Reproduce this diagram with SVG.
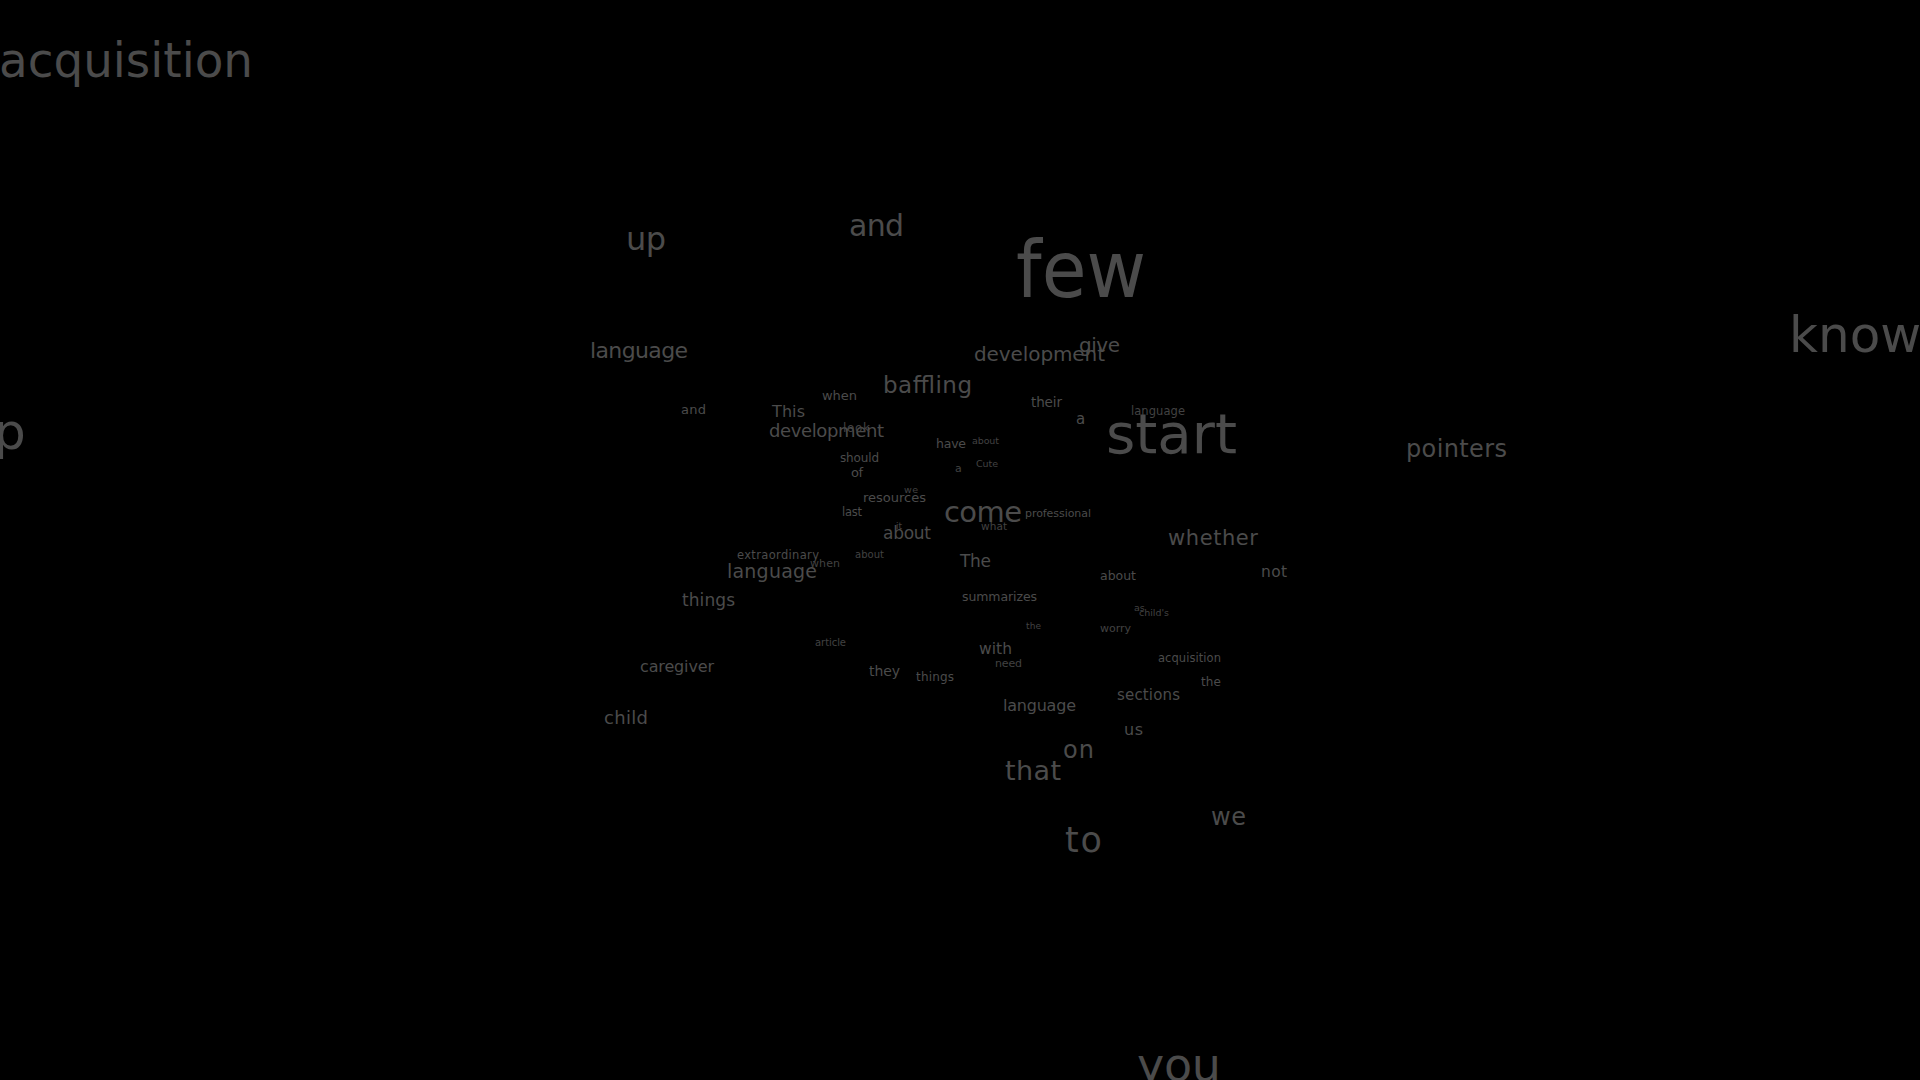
<svg xmlns="http://www.w3.org/2000/svg" width="1920" height="1080" viewBox="0 0 1920 1080">
<style>
text{font-family:"DejaVu Sans","Liberation Sans",sans-serif;fill:#4b4b4b}
.d{fill:#424242}
</style>
<rect x="0" y="0" width="1920" height="1080" fill="#000"/>
<g id="words">
<text id="w1" x="-1" y="77" font-size="48" textLength="254" lengthAdjust="spacingAndGlyphs">acquisition</text>
<text id="w2" x="626" y="250" font-size="32" textLength="40">up</text>
<text id="w3" x="849" y="236" font-size="30" textLength="55">and</text>
<text id="w4" x="1016" y="297" font-size="78" textLength="130" lengthAdjust="spacingAndGlyphs">few</text>
<text id="w5" x="1789" y="352" font-size="50">know</text>
<text id="w6" x="-6" y="449" font-size="50">p</text>
<text id="w7" x="590" y="358" font-size="22" textLength="98">language</text>
<text id="w8" x="974" y="361" font-size="20" textLength="131">development</text>
<text id="w9" x="1079" y="352" font-size="20" textLength="41">give</text>
<text id="w10" x="883" y="393" font-size="23" textLength="89">baffling</text>
<text id="w11" x="1106" y="453" font-size="55" textLength="131" lengthAdjust="spacingAndGlyphs">start</text>
<text id="w12" x="1406" y="457" font-size="24" textLength="101">pointers</text>
<text id="w13" x="944" y="522" font-size="29" textLength="78">come</text>
<text id="w14" x="1168" y="545" font-size="21" textLength="90">whether</text>
<text id="w15" x="883" y="539" font-size="17" textLength="48">about</text>
<text id="w16" x="772" y="417" font-size="16" textLength="33">This</text>
<text id="w17" x="769" y="437" font-size="18" textLength="115">development</text>
<text id="w18" x="727" y="578" font-size="19" textLength="90">language</text>
<text id="w19" x="737" y="559" font-size="11.5" textLength="82">extraordinary</text>
<text id="w20" x="682" y="606" font-size="17" textLength="53">things</text>
<text id="w21" x="640" y="672" font-size="16" textLength="74">caregiver</text>
<text id="w22" x="604" y="724" font-size="18" textLength="44">child</text>
<text id="w23" x="960" y="567" font-size="17" textLength="31">The</text>
<text id="w24" x="962" y="601" font-size="12.5" textLength="75">summarizes</text>
<text id="w25" x="979" y="654" font-size="15.5" textLength="33">with</text>
<text id="w26" x="869" y="676" font-size="14" textLength="31">they</text>
<text id="w27" x="916" y="681" font-size="12" textLength="38">things</text>
<text id="w28" x="1003" y="711" font-size="16" textLength="73">language</text>
<text id="w29" x="1117" y="700" font-size="15" textLength="63">sections</text>
<text id="w30" x="1124" y="735" font-size="16" textLength="19">us</text>
<text id="w31" x="1063" y="758" font-size="24" textLength="31">on</text>
<text id="w32" x="1005" y="780" font-size="27" textLength="56">that</text>
<text id="w33" x="1211" y="825" font-size="24" textLength="35">we</text>
<text id="w34" x="1065" y="852" font-size="35" textLength="37">to</text>
<text id="w35" x="1137" y="1081" font-size="46" textLength="84">you</text>
<text id="w36" x="1261" y="577" font-size="15.5" textLength="26">not</text>
<text id="w37" x="1100" y="580" font-size="12.5" textLength="36">about</text>
<text id="w38" x="1100" y="632" font-size="11" textLength="31" class="d">worry</text>
<text id="w39" x="1158" y="662" font-size="11.5" textLength="63">acquisition</text>
<text id="w40" x="1201" y="686" font-size="12" textLength="20">the</text>
<text id="w41" x="1139" y="616" font-size="9.5" textLength="30" class="d">child's</text>
<text id="w42" x="1134" y="611" font-size="9.5" class="d">as</text>
<text id="w43" x="1026" y="629" font-size="9" textLength="15" class="d">the</text>
<text id="w44" x="995" y="667" font-size="11" textLength="27" class="d">need</text>
<text id="w45" x="815" y="646" font-size="10" textLength="31" class="d">article</text>
<text id="w46" x="810" y="567" font-size="11" textLength="30" class="d">when</text>
<text id="w47" x="855" y="558" font-size="10" textLength="29" class="d">about</text>
<text id="w48" x="842" y="516" font-size="11.5" textLength="20">last</text>
<text id="w49" x="863" y="502" font-size="13" textLength="63">resources</text>
<text id="w50" x="904" y="493" font-size="9.5" textLength="14" class="d">we</text>
<text id="w51" x="896" y="529" font-size="9" class="d">it</text>
<text id="w52" x="840" y="462" font-size="12" textLength="39">should</text>
<text id="w53" x="851" y="477" font-size="13" textLength="12">of</text>
<text id="w54" x="955" y="472" font-size="11" class="d">a</text>
<text id="w55" x="976" y="467" font-size="9.5" textLength="22" class="d">Cute</text>
<text id="w56" x="936" y="448" font-size="12.5" textLength="30">have</text>
<text id="w57" x="972" y="444" font-size="9.5" textLength="27" class="d">about</text>
<text id="w58" x="822" y="400" font-size="13" textLength="35">when</text>
<text id="w59" x="681" y="414" font-size="13" textLength="25">and</text>
<text id="w60" x="843" y="432" font-size="12" textLength="27" class="d">look</text>
<text id="w61" x="1031" y="407" font-size="13.5" textLength="31">their</text>
<text id="w62" x="1076" y="424" font-size="15">a</text>
<text id="w63" x="1131" y="415" font-size="11.5" textLength="54" class="d">language</text>
<text id="w64" x="1025" y="517" font-size="11" textLength="66">professional</text>
<text id="w65" x="981" y="530" font-size="10.5" textLength="26" class="d">what</text>
</g>
</svg>
